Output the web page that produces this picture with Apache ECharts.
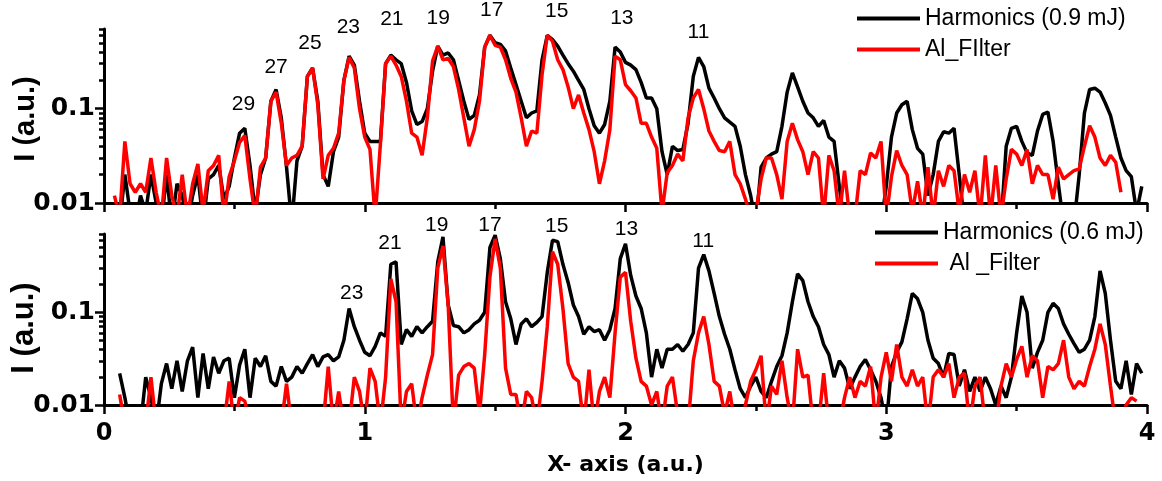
<!DOCTYPE html>
<html><head><meta charset="utf-8">
<script src="https://cdn.jsdelivr.net/npm/echarts@6/dist/echarts.min.js"></script>
<style>html,body{margin:0;padding:0;background:#fff}#c{width:1162px;height:481px}</style>
</head><body><div id="c"></div>
<script>
// sampling grid of the spectra (x in a.u.)
const X_START = 0.04, X_STEP = 0.02;

// top panel: Harmonics (0.9 mJ)
const topHarm = [
0.006,0.006,0.02,0.008,0.006,0.012,0.008,0.02,0.01,0.006,
0.02,0.006,0.016,0.012,0.006,0.012,0.02,0.006,0.018,0.02,
0.025,0.011,0.015,0.03,0.055,0.062,0.025,0.008,0.02,0.03,
0.12,0.16,0.08,0.024,0.006,0.028,0.04,0.22,0.27,0.12,
0.02,0.015,0.035,0.05,0.2,0.36,0.29,0.12,0.055,0.045,
0.045,0.045,0.3,0.37,0.33,0.3,0.19,0.095,0.068,0.073,
0.1,0.25,0.46,0.37,0.39,0.33,0.2,0.12,0.077,0.085,
0.14,0.45,0.6,0.5,0.48,0.41,0.27,0.18,0.12,0.08,
0.09,0.095,0.33,0.6,0.54,0.46,0.37,0.3,0.25,0.2,
0.16,0.1,0.066,0.055,0.068,0.12,0.45,0.4,0.31,0.29,
0.26,0.19,0.13,0.13,0.1,0.035,0.02,0.04,0.036,0.037,
0.07,0.22,0.35,0.28,0.165,0.13,0.1,0.08,0.072,0.065,
0.04,0.02,0.012,0.006,0.024,0.03,0.033,0.035,0.065,0.15,
0.24,0.17,0.12,0.09,0.08,0.065,0.075,0.05,0.045,0.015,
0.006,0.006,0.006,0.006,0.006,0.006,0.006,0.006,0.015,0.05,
0.09,0.11,0.12,0.06,0.038,0.033,0.012,0.02,0.045,0.057,
0.055,0.062,0.02,0.006,0.006,0.006,0.006,0.006,0.006,0.006,
0.006,0.04,0.062,0.065,0.045,0.034,0.032,0.058,0.087,0.092,
0.045,0.016,0.006,0.006,0.006,0.02,0.09,0.16,0.165,0.15,
0.115,0.085,0.05,0.03,0.022,0.019,0.008,0.015];

// top panel: Al filter
const topAl = [
0.012,0.007,0.045,0.016,0.013,0.016,0.013,0.03,0.013,0.007,
0.03,0.012,0.007,0.02,0.007,0.016,0.026,0.008,0.022,0.025,
0.032,0.007,0.019,0.028,0.044,0.052,0.018,0.007,0.024,0.03,
0.12,0.15,0.07,0.025,0.03,0.032,0.04,0.22,0.27,0.11,
0.018,0.032,0.038,0.055,0.2,0.35,0.27,0.1,0.05,0.037,
0.007,0.042,0.3,0.36,0.29,0.22,0.12,0.055,0.05,0.032,
0.08,0.32,0.46,0.33,0.34,0.28,0.16,0.08,0.04,0.06,
0.12,0.45,0.6,0.47,0.45,0.33,0.21,0.15,0.08,0.04,
0.058,0.055,0.23,0.6,0.52,0.33,0.26,0.17,0.1,0.14,
0.09,0.06,0.035,0.016,0.028,0.06,0.36,0.33,0.18,0.155,
0.13,0.07,0.07,0.05,0.038,0.008,0.021,0.025,0.033,0.028,
0.08,0.13,0.16,0.1,0.058,0.045,0.036,0.035,0.045,0.02,
0.016,0.011,0.007,0.008,0.018,0.03,0.03,0.02,0.011,0.045,
0.07,0.047,0.035,0.02,0.035,0.03,0.007,0.032,0.022,0.007,
0.022,0.007,0.007,0.022,0.02,0.034,0.03,0.045,0.007,0.019,
0.036,0.025,0.02,0.008,0.017,0.007,0.024,0.007,0.022,0.015,
0.025,0.022,0.008,0.02,0.013,0.022,0.007,0.032,0.007,0.025,
0.007,0.018,0.037,0.033,0.025,0.037,0.016,0.025,0.02,0.02,
0.011,0.024,0.018,0.02,0.022,0.023,0.04,0.066,0.05,0.03,
0.025,0.032,0.027,0.013,null,null,null,null];

// bottom panel: Harmonics (0.6 mJ)
const botHarm = [
null,0.022,0.012,0.006,0.006,0.006,0.02,0.012,0.006,0.017,
0.028,0.015,0.03,0.014,0.03,0.042,0.012,0.036,0.015,0.033,
0.022,0.03,0.032,0.012,0.027,0.04,0.012,0.032,0.026,0.034,
0.018,0.016,0.026,0.018,0.02,0.026,0.022,0.028,0.035,0.026,
0.033,0.035,0.03,0.033,0.05,0.11,0.07,0.05,0.037,0.034,
0.043,0.06,0.055,0.33,0.35,0.045,0.065,0.055,0.07,0.06,
0.07,0.08,0.35,0.65,0.12,0.072,0.07,0.06,0.065,0.075,
0.082,0.1,0.5,0.68,0.38,0.13,0.085,0.045,0.075,0.085,
0.07,0.078,0.09,0.27,0.6,0.58,0.33,0.21,0.12,0.09,
0.058,0.07,0.062,0.065,0.05,0.065,0.11,0.38,0.55,0.25,
0.15,0.11,0.06,0.02,0.04,0.025,0.04,0.04,0.045,0.038,
0.045,0.06,0.3,0.42,0.28,0.16,0.09,0.058,0.04,0.024,
0.015,0.012,0.016,0.02,0.014,0.012,0.018,0.026,0.034,0.06,
0.13,0.26,0.22,0.13,0.09,0.07,0.045,0.035,0.02,0.03,
0.025,0.015,0.02,0.026,0.031,0.024,0.018,0.012,0.006,0.026,
0.037,0.048,0.085,0.16,0.14,0.1,0.05,0.032,0.028,0.02,
0.036,0.035,0.016,0.024,0.014,0.02,0.014,0.02,0.015,0.01,
0.016,0.012,0.02,0.06,0.15,0.1,0.025,0.037,0.05,0.1,
0.125,0.11,0.075,0.058,0.046,0.037,0.04,0.05,0.09,0.28,
0.16,0.05,0.018,0.015,0.03,0.013,0.028,0.022];

// bottom panel: Al filter
const botAl = [
null,0.013,0.006,0.006,0.006,0.006,0.006,0.02,0.006,0.006,
0.006,0.006,0.006,0.006,0.006,0.006,0.006,0.006,0.006,0.006,
0.006,0.006,0.018,0.006,0.012,0.011,0.006,0.006,0.006,0.006,
0.006,0.006,0.006,0.017,0.006,0.006,0.006,0.006,0.006,0.006,
0.006,0.026,0.006,0.014,0.006,0.006,0.02,0.014,0.006,0.025,
0.018,0.006,0.02,0.23,0.13,0.006,0.014,0.017,0.006,0.012,
0.021,0.035,0.3,0.52,0.12,0.006,0.021,0.026,0.028,0.025,
0.008,0.035,0.24,0.62,0.3,0.025,0.013,0.013,0.006,0.014,
0.012,0.006,0.018,0.07,0.45,0.33,0.11,0.028,0.02,0.018,
0.006,0.024,0.006,0.014,0.02,0.012,0.06,0.24,0.27,0.08,
0.032,0.018,0.016,0.01,0.014,0.006,0.016,0.02,0.008,0.006,
0.006,0.03,0.06,0.09,0.045,0.018,0.016,0.008,0.014,0.006,
0.006,0.01,0.018,0.024,0.034,0.006,0.016,0.013,0.03,0.012,
0.006,0.04,0.02,0.021,0.006,0.006,0.022,0.006,0.006,0.006,
0.012,0.02,0.012,0.018,0.016,0.026,0.006,0.02,0.037,0.018,
0.045,0.02,0.016,0.024,0.016,0.02,0.006,0.02,0.024,0.02,
0.028,0.012,0.02,0.022,0.006,0.016,0.02,0.006,0.006,0.006,
0.016,0.028,0.02,0.031,0.043,0.02,0.034,0.03,0.012,0.026,
0.024,0.028,0.05,0.02,0.015,0.018,0.016,0.026,0.04,0.075,
0.045,0.016,0.006,0.006,0.01,0.012,0.011,null];

// harmonic order labels (data coordinates)
const topOrders = ['29','27','25','23','21','19','17','15','13','11'];
const topOrderX = [0.535,0.66,0.79,0.937,1.104,1.282,1.487,1.736,1.986,2.28];
const topOrderY = [0.111,0.276,0.489,0.73,0.9,0.92,1.12,1.08,0.92,0.65];
const botOrders = ['23','21','19','17','15','13','11'];
const botOrderX = [0.95,1.097,1.276,1.48,1.736,2.004,2.298];
const botOrderY = [0.162,0.56,0.88,0.88,0.845,0.78,0.58];

// axes
const X_MIN = 0, X_MAX = 4, X_INTERVAL = 1;
const Y_MIN = 0.01, Y_MAX = 0.7;
const yMajor = [0.01, 0.1];
const yMajorLabels = ['0.01', '0.1'];
const yMinor = [0.02,0.03,0.04,0.05,0.06,0.07,0.08,0.09,0.2,0.3,0.4,0.5,0.6,0.7];

const seriesNames = ['Harmonics (0.9 mJ)', 'Al_FIlter', 'Harmonics (0.6 mJ)', ' Al _Filter'];

const FONT = 'Liberation Sans, Arial, sans-serif';
const BOLD = 'DejaVu Sans, Liberation Sans, sans-serif';

function toPairs(vals) {
  return vals.map((v, i) => [+(X_START + X_STEP * i).toFixed(2), v]);
}

function xAxisCfg(gridIndex, bottom) {
  return {
    type: 'value', gridIndex, position: 'bottom', min: X_MIN, max: X_MAX, interval: X_INTERVAL,
    axisLine: { show: true, onZero: false, lineStyle: { color: '#000', width: 3 } },
    axisTick: { show: true, length: 9, lineStyle: { color: '#000', width: 2.5 } },
    minorTick: { show: true, splitNumber: 2, length: 6, lineStyle: { color: '#000', width: 2.5 } },
    splitLine: { show: false }, minorSplitLine: { show: false },
    axisLabel: { show: bottom, fontSize: 24, fontWeight: 'bold', color: '#000', fontFamily: BOLD, margin: 17 },
    name: bottom ? 'X- axis (a.u.)' : '',
    nameLocation: 'middle', nameGap: 49, nameMoveOverlap: false,
    nameTextStyle: { fontSize: 22, fontWeight: 'bold', color: '#000', fontFamily: BOLD }
  };
}

function yAxesCfg(gridIndex, namePad, nameSize) {
  const lg = Math.log10;
  return [
    {
      type: 'log', logBase: 10, gridIndex, position: 'left', min: Y_MIN, max: Y_MAX,
      axisLine: { show: true, lineStyle: { color: '#000', width: 3 } },
      axisTick: { show: false },
      splitLine: { show: false },
      axisLabel: {
        fontSize: 25, fontWeight: 'bold', color: '#000', fontFamily: BOLD, margin: 9,
        formatter: v => {
          for (let k = 0; k < yMajor.length; k++) {
            if (Math.abs(lg(v) - lg(yMajor[k])) < 1e-6) return yMajorLabels[k];
          }
          return '';
        }
      },
      name: 'I (a.u.)', nameLocation: 'middle', nameRotate: 90, nameGap: 64, nameMoveOverlap: false,
      nameTextStyle: { fontSize: nameSize, fontWeight: 'bold', color: '#000', fontFamily: FONT, padding: [0, namePad, 0, 0] }
    },
    {
      type: 'value', gridIndex, position: 'left', offset: 0, min: lg(Y_MIN), max: lg(Y_MAX),
      axisLine: { show: false }, axisLabel: { show: false }, splitLine: { show: false },
      axisTick: { show: true, length: 9, customValues: yMajor.map(lg), lineStyle: { color: '#000', width: 2.5 } }
    },
    {
      type: 'value', gridIndex, position: 'left', offset: 0, min: lg(Y_MIN), max: lg(Y_MAX),
      axisLine: { show: false }, axisLabel: { show: false }, splitLine: { show: false },
      axisTick: { show: true, length: 5, customValues: yMinor.map(lg), lineStyle: { color: '#000', width: 2.5 } }
    }
  ];
}

function lineSeries(name, vals, xi, yi, color) {
  return {
    name, type: 'line', xAxisIndex: xi, yAxisIndex: yi, data: toPairs(vals),
    symbol: 'none', showSymbol: false, clip: true, connectNulls: false,
    lineStyle: { color, width: 3.5 }, itemStyle: { color },
    emphasis: { disabled: true }
  };
}

function labelSeries(orders, xs, ys, xi, yi) {
  return {
    type: 'scatter', xAxisIndex: xi, yAxisIndex: yi, clip: false, silent: true,
    symbolSize: 1, itemStyle: { color: 'rgba(255,255,255,0)' },
    data: orders.map((t, i) => ({ name: t, value: [xs[i], ys[i]] })),
    label: { show: true, position: 'inside', formatter: '{b}', fontSize: 21, color: '#000', opacity: 1, fontFamily: FONT },
    z: 5
  };
}

const legendText = { fontSize: 23, color: '#000', fontFamily: FONT, lineHeight: 23 };

const chart = echarts.init(document.getElementById('c'), null, { renderer: 'canvas' });
chart.setOption({
  animation: false,
  backgroundColor: '#fff',
  grid: [
    { left: 104, right: 15, top: 29, height: 174, containLabel: false, outerBoundsMode: 'none' },
    { left: 104, right: 15, top: 234, height: 171, containLabel: false, outerBoundsMode: 'none' }
  ],
  legend: [
    {
      orient: 'vertical', left: 852, top: 2, icon: 'rect', itemWidth: 63, itemHeight: 4, itemGap: 8,
      data: [seriesNames[0], seriesNames[1]], textStyle: legendText
    },
    {
      orient: 'vertical', left: 870, top: 216, icon: 'rect', itemWidth: 63, itemHeight: 4, itemGap: 8,
      data: [seriesNames[2], seriesNames[3]], textStyle: legendText
    }
  ],
  xAxis: [xAxisCfg(0, false), xAxisCfg(1, true)],
  yAxis: [...yAxesCfg(0, 6, 29), ...yAxesCfg(1, 17, 31)],
  series: [
    lineSeries(seriesNames[0], topHarm, 0, 0, '#000000'),
    lineSeries(seriesNames[1], topAl, 0, 0, '#ff0000'),
    lineSeries(seriesNames[2], botHarm, 1, 3, '#000000'),
    lineSeries(seriesNames[3], botAl, 1, 3, '#ff0000'),
    labelSeries(topOrders, topOrderX, topOrderY, 0, 0),
    labelSeries(botOrders, botOrderX, botOrderY, 1, 3)
  ]
});
</script></body></html>
